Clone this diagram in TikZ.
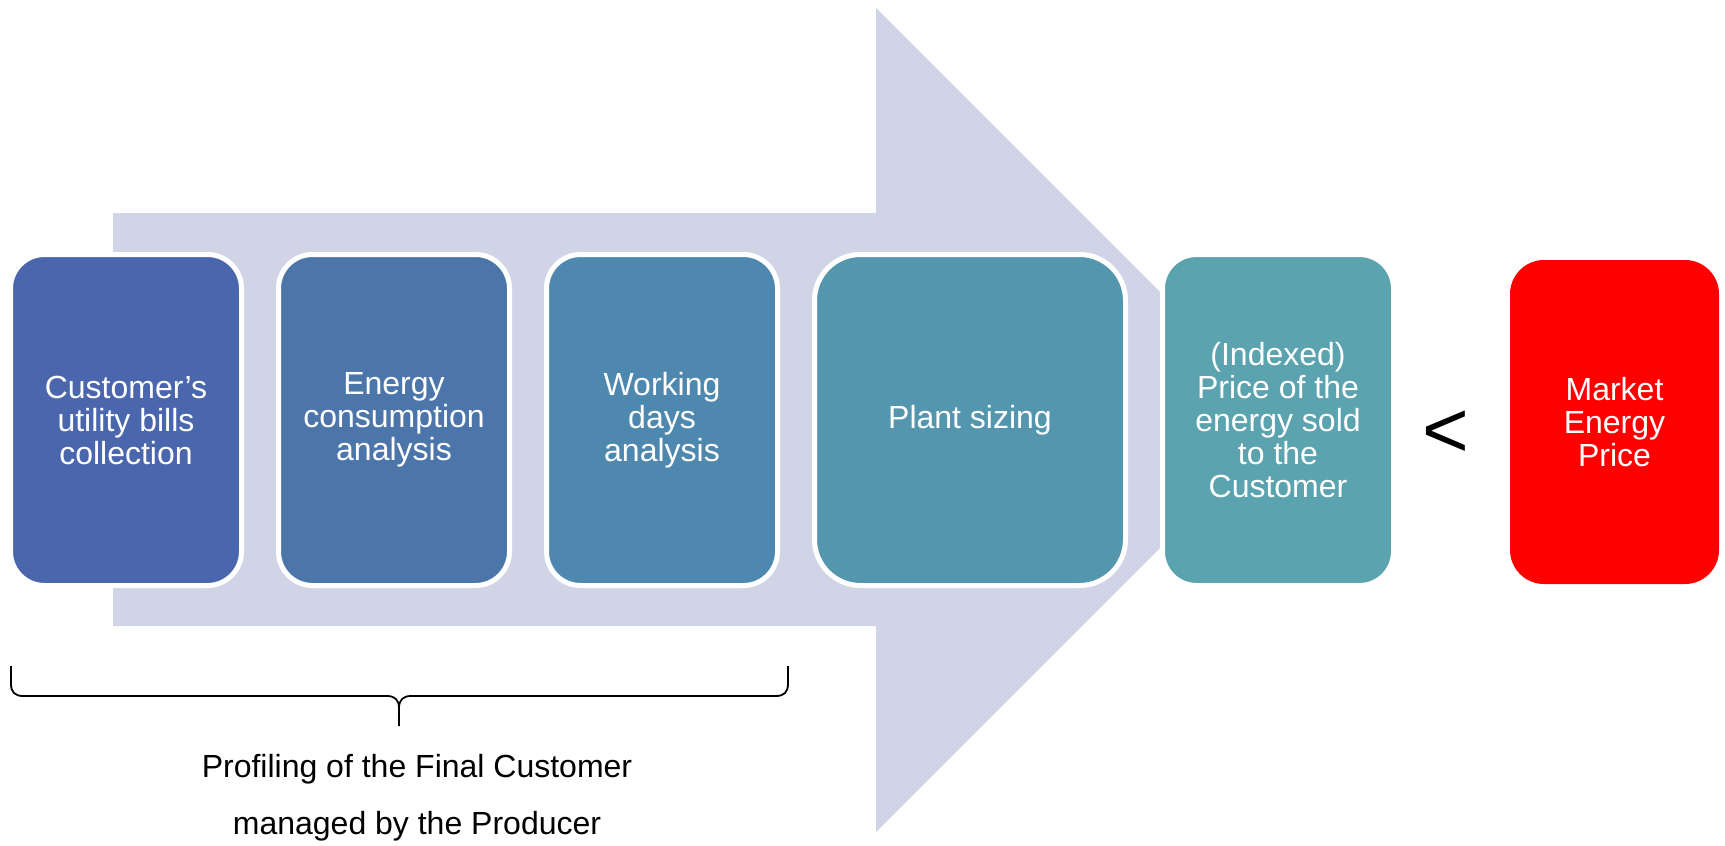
\documentclass[tikz,border=0pt]{standalone}
\usepackage{fontspec}
\setmainfont{Liberation Sans}
\usetikzlibrary{positioning}
\definecolor{arrowfill}{RGB}{208,212,230}
\definecolor{stepA}{RGB}{74,102,172}
\definecolor{stepB}{RGB}{76,118,170}
\definecolor{stepC}{RGB}{79,136,174}
\definecolor{stepD}{RGB}{84,150,174}
\definecolor{stepE}{RGB}{91,163,174}
\begin{document}
\begin{tikzpicture}[x=1pt,y=-1pt,
  stagebox/.style={rectangle,rounded corners=34pt,draw=white,line width=5pt,outer sep=0pt,inner sep=0pt,
    minimum width=231pt,minimum height=331pt,text=white,align=center,font=\fontsize{32}{33}\selectfont}]
\useasboundingbox (0,0) rectangle (1725,846);
% big arrow in the back
\fill[arrowfill] (113,213) -- (876,213) -- (876,8) -- (1288,420) -- (876,832) -- (876,626) -- (113,626) -- cycle;
\node[stagebox,fill=stepA] (s1) at (126,420) {Customer’s\\utility bills\\collection};
\node[stagebox,fill=stepB,right=37pt of s1] (s2) {Energy\\consumption\\analysis};
\node[stagebox,fill=stepC,right=37pt of s2] (s3) {Working\\days\\analysis};
\node[stagebox,fill=stepD,minimum width=311pt,rounded corners=46pt,right=37pt of s3] (s4) {Plant sizing};
\node[stagebox,fill=stepE,right=37pt of s4] (s5) {(Indexed)\\Price of the\\energy sold\\to the\\Customer};
\node[stagebox,fill=red,draw=none,minimum width=209pt,minimum height=324pt] (mp) at (1614.5,422) {Market\\Energy\\Price};
\node[font=\fontsize{80}{80}\selectfont] (lt) at (1446,434) {<};
% brace under the first three steps
\draw[line width=1.8pt] (11,666) -- (11,684) .. controls (11,692) and (15,696) .. (23,696) -- (387,696)
  .. controls (395,696) and (399,700) .. (399,708) -- (399,726);
\draw[line width=1.8pt] (399,708) .. controls (399,700) and (403,696) .. (411,696) -- (776,696)
  .. controls (784,696) and (788,692) .. (788,684) -- (788,666);
\node[align=center,font=\fontsize{32}{57}\selectfont] (prof) at (417,798) {Profiling of the Final Customer\\managed by the Producer};
\end{tikzpicture}
\end{document}
